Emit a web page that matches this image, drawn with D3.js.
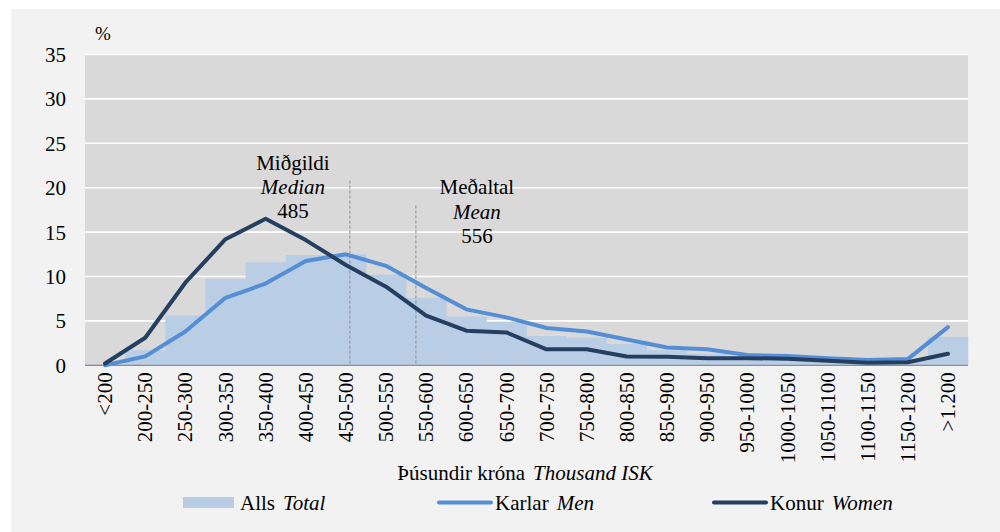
<!DOCTYPE html>
<html>
<head>
<meta charset="utf-8">
<script src="https://cdnjs.cloudflare.com/ajax/libs/d3/7.8.5/d3.min.js"></script>
</head>
<body style="margin:0; background:#ffffff">
<div style="position:absolute; left:0; top:0; font-family:'Liberation Serif'; font-size:1px; color:#ffffff;">Miðgildi <i>Median</i></div>
<script>

// income brackets (thousand ISK)
var categories = ["<200", "200-250", "250-300", "300-350", "350-400", "400-450",
  "450-500", "500-550", "550-600", "600-650", "650-700", "700-750", "750-800",
  "800-850", "850-900", "900-950", "950-1000", "1000-1050", "1050-1100",
  "1100-1150", "1150-1200", ">1.200"];

// share of each group in %
var totalValues = [0.1, 1.7, 5.6, 9.7, 11.6, 12.4, 12.5, 10.2, 7.6, 5.5, 4.9,
  3.3, 3.1, 2.4, 1.7, 1.3, 1.0, 0.9, 0.65, 0.45, 0.5, 3.2];
var menValues = [0.0, 1.0, 3.8, 7.6, 9.2, 11.75, 12.5, 11.2, 8.7, 6.3, 5.4,
  4.2, 3.8, 2.9, 2.0, 1.8, 1.15, 1.05, 0.8, 0.6, 0.7, 4.3];
var womenValues = [0.2, 3.1, 9.3, 14.2, 16.5, 14.1, 11.3, 8.85, 5.6, 3.9, 3.7,
  1.8, 1.8, 1.0, 0.95, 0.8, 0.8, 0.75, 0.5, 0.3, 0.35, 1.3];

// y ticks
var yTicks = [0, 5, 10, 15, 20, 25, 30, 35];

// median and mean markers: value in thousand ISK, height of the dashed line in %
var markers = [
  {lines: ["Miðgildi", "Median"], value: 485, top: 20.8, dx: -57},
  {lines: ["Meðaltal", "Mean"], value: 556, top: 18, dx: 61}
];

var FONT = "'Liberation Serif', 'Times New Roman', Tinos, serif";
var FONT_SIZE = 21;


function main() {
  /*
  builds the svg and draws every part of the chart
  */
  var margin = {left: 85, right: 32, top: 54.5, bottom: 166.7};
  var param = {width: 1000, height: 532};
  var plot = {
    left: margin.left,
    right: param.width - margin.right,
    top: margin.top,
    bottom: param.height - margin.bottom
  };

  var svg = d3.select("body")
              .append("svg")
              .attr("width", param.width)
              .attr("height", param.height)
              .style("display", "block")
              .attr("font-family", FONT);

  // outer background
  svg.append("rect")
     .attr("x", 11)
     .attr("y", 9)
     .attr("width", param.width - 11)
     .attr("height", param.height - 9)
     .attr("fill", "#f2f2f2");

  // plot area
  svg.append("rect")
     .attr("x", plot.left)
     .attr("y", plot.top)
     .attr("width", plot.right - plot.left)
     .attr("height", plot.bottom - plot.top)
     .attr("fill", "#d9d9d9");

  // scales
  var xScale = d3.scaleBand()
                 .domain(categories)
                 .range([plot.left, plot.right])
                 .padding(0);
  var yScale = d3.scaleLinear()
                 .domain([0, 35])
                 .range([plot.bottom, plot.top]);
  // secondary axis used for the median / mean markers
  var iskScale = d3.scaleLinear()
                   .domain([200, 1150])
                   .range([plot.left, plot.right]);

  axesMaker(svg, plot, xScale, yScale);
  barMaker(svg, plot, xScale, yScale);
  markerMaker(svg, iskScale, yScale);
  lineMaker(svg, xScale, yScale, menValues, "#558ed5");
  lineMaker(svg, xScale, yScale, womenValues, "#243f60");
  legendMaker(svg);

  // font on every text element itself
  svg.selectAll("text")
     .attr("font-family", FONT)
     .attr("fill", "#000000");
};


function axesMaker(svg, plot, xScale, yScale) {
  /*
  gridlines, tick labels and axis titles
  */

  // gridlines
  svg.append("g")
     .selectAll("line")
     .data(yTicks.filter(function(d) { return d > 0; }))
     .join("line")
     .attr("x1", plot.left)
     .attr("x2", plot.right)
     .attr("y1", function(d) { return yScale(d); })
     .attr("y2", function(d) { return yScale(d); })
     .attr("stroke", "#ffffff")
     .attr("stroke-width", 1.6);

  // y labels
  var yAxis = d3.axisLeft(yScale)
                .tickValues(yTicks)
                .tickSize(0)
                .tickPadding(19);
  var yG = svg.append("g")
              .attr("transform", "translate(" + plot.left + ",0)")
              .call(yAxis)
              .attr("font-family", FONT);
  yG.select(".domain").remove();
  yG.selectAll("text")
    .attr("font-size", FONT_SIZE)
    .attr("dy", "0.33em");

  // % sign
  svg.append("text")
     .attr("x", 95)
     .attr("y", 40)
     .attr("font-size", 19)
     .text("%");

  // x labels
  var xAxis = d3.axisBottom(xScale)
                .tickSize(0)
                .tickPadding(0);
  var xG = svg.append("g")
              .attr("transform", "translate(0," + plot.bottom + ")")
              .call(xAxis)
              .attr("font-family", FONT);
  xG.select(".domain").remove();
  xG.selectAll("text")
    .attr("font-size", FONT_SIZE)
    .attr("text-anchor", "end")
    .attr("transform", "rotate(-90)")
    .attr("x", -7)
    .attr("y", 0)
    .attr("dy", "0.34em");

  // x axis title
  var title = svg.append("text")
                 .attr("x", 525)
                 .attr("y", 480)
                 .attr("font-size", FONT_SIZE)
                 .attr("text-anchor", "middle");
  title.append("tspan").text("Þúsundir króna");
  title.append("tspan")
       .attr("dx", 8)
       .attr("font-style", "italic")
       .text("Thousand ISK");
};


function barMaker(svg, plot, xScale, yScale) {
  /*
  histogram bars for the total
  */
  svg.append("g")
     .selectAll("rect")
     .data(totalValues)
     .join("rect")
     .attr("x", function(d, i) { return xScale(categories[i]); })
     .attr("y", function(d) { return yScale(d); })
     .attr("width", xScale.bandwidth() + 0.3)
     .attr("height", function(d) { return yScale(0) - yScale(d); })
     .attr("fill", "#b9cde5");

  // axis line
  svg.append("line")
     .attr("x1", plot.left)
     .attr("x2", plot.right)
     .attr("y1", yScale(0))
     .attr("y2", yScale(0))
     .attr("stroke", "#8c8c8c")
     .attr("stroke-width", 1.2);
};


function markerMaker(svg, iskScale, yScale) {
  /*
  dashed lines and labels for median and mean
  */
  markers.forEach(function(m) {
    var x = iskScale(m.value);
    svg.append("line")
       .attr("x1", x)
       .attr("x2", x)
       .attr("y1", yScale(m.top))
       .attr("y2", yScale(0))
       .attr("stroke", "#8c8c8c")
       .attr("stroke-width", 1)
       .attr("stroke-dasharray", "3,2");

    var label = svg.append("text")
                   .attr("x", x + m.dx)
                   .attr("y", yScale(m.top) - 11)
                   .attr("font-size", FONT_SIZE)
                   .attr("text-anchor", "middle");
    label.append("tspan").text(m.lines[0]);
    label.append("tspan")
         .attr("x", x + m.dx)
         .attr("dy", 24.5)
         .attr("font-style", "italic")
         .text(m.lines[1]);
    label.append("tspan")
         .attr("x", x + m.dx)
         .attr("dy", 24)
         .text(m.value);
  });
};


function lineMaker(svg, xScale, yScale, values, colour) {
  /*
  line series through the band centres
  */
  var line = d3.line()
               .x(function(d, i) { return xScale(categories[i]) + xScale.bandwidth() / 2; })
               .y(function(d) { return yScale(d); });

  svg.append("path")
     .datum(values)
     .attr("d", line)
     .attr("fill", "none")
     .attr("stroke", colour)
     .attr("stroke-width", 4)
     .attr("stroke-linejoin", "round")
     .attr("stroke-linecap", "round");
};


function legendMaker(svg) {
  /*
  legend below the axis title
  */
  var y = 502.5;
  var items = [
    {type: "rect", x: 183, colour: "#b9cde5", name: "Alls", en: "Total", tx: 240},
    {type: "line", x: 438, colour: "#558ed5", name: "Karlar", en: "Men", tx: 495},
    {type: "line", x: 713, colour: "#243f60", name: "Konur", en: "Women", tx: 770}
  ];

  items.forEach(function(item) {
    if (item.type === "rect") {
      svg.append("rect")
         .attr("x", item.x)
         .attr("y", y - 5.5)
         .attr("width", 51)
         .attr("height", 11)
         .attr("fill", item.colour);
    } else {
      svg.append("line")
         .attr("x1", item.x + 1)
         .attr("x2", item.x + 53)
         .attr("y1", y)
         .attr("y2", y)
         .attr("stroke", item.colour)
         .attr("stroke-width", 4)
         .attr("stroke-linecap", "round");
    };

    var text = svg.append("text")
                  .attr("x", item.tx)
                  .attr("y", y + 7)
                  .attr("font-size", FONT_SIZE);
    text.append("tspan").text(item.name);
    text.append("tspan")
        .attr("dx", 8)
        .attr("font-style", "italic")
        .text(item.en);
  });
};

// draw straight away (script sits at the end of the body)
main();

</script>
</body>
</html>
